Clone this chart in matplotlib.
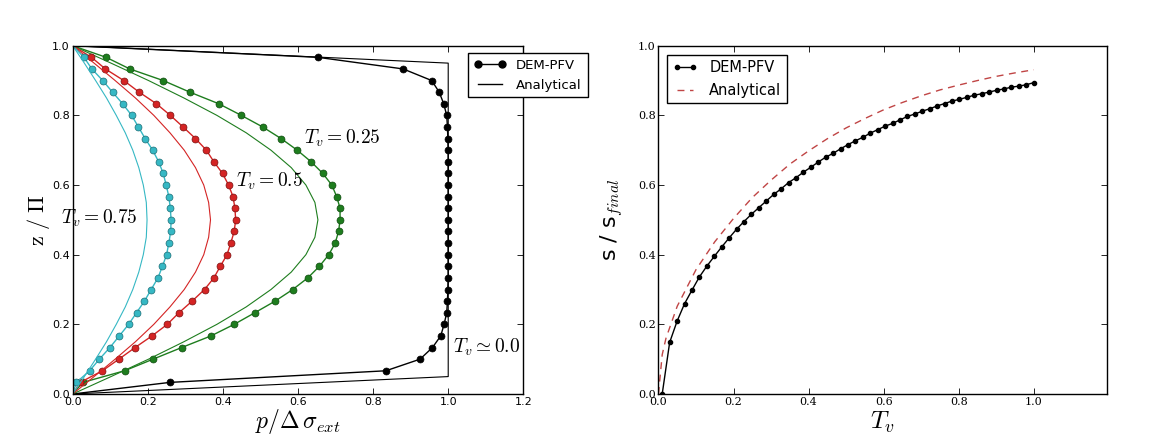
import numpy as np
import matplotlib
matplotlib.use('Agg')
import matplotlib.pyplot as plt

plt.rcParams['mathtext.fontset'] = 'cm'
plt.rcParams['font.family'] = 'DejaVu Sans'

# --- left panel: pressure profiles (DEM points every 1/30 of height)
z_dem = np.linspace(0.0, 1.0, 31)
p_dem_000 = [0, .259, .834, .925, .958, .980, .989, .996, .998, .999,
             1.0, 1.0, 1.0, 1.0, 1.0, 1.0, 1.0, 1.0, 1.0, 1.0, 1.0, 1.0,
             .999, .998, .996, .988, .976, .956, .880, .653, 0]
p_dem_025 = [0, .027, .138, .214, .290, .368, .430, .485, .539, .586, .626,
             .657, .682, .699, .708, .712, .712, .703, .690, .666, .635,
             .598, .555, .506, .449, .389, .312, .241, .152, .089, 0]
p_dem_050 = [0, .020, .079, .123, .166, .211, .252, .283, .318, .351, .376,
             .393, .411, .421, .430, .434, .432, .427, .415, .399, .376,
             .356, .327, .294, .260, .223, .177, .136, .087, .050, 0]
p_dem_075 = [0, .010, .045, .071, .099, .124, .149, .170, .191, .209, .227,
             .239, .250, .256, .261, .262, .260, .256, .249, .241, .229,
             .213, .193, .175, .157, .133, .106, .080, .051, .030, 0]

# analytical profiles, every 0.05 of height
z_an = np.linspace(0.0, 1.0, 21)
p_an_000 = [0] + [1.0] * 19 + [0]
p_an_025 = [0, .102, .202, .296, .384, .462, .528, .582, .621, .645, .653,
            .645, .621, .582, .528, .462, .384, .296, .202, .102, 0]
p_an_050 = [0, .057, .113, .167, .216, .259, .297, .327, .349, .362, .367,
            .362, .349, .327, .297, .259, .216, .167, .113, .057, 0]
p_an_075 = [0, .031, .061, .090, .116, .140, .160, .176, .188, .196, .198,
            .196, .188, .176, .160, .140, .116, .090, .061, .031, 0]

# --- right panel: settlement vs time factor
tv_dem = np.linspace(0.01, 1.0, 51)
s_dem = [0.0, .148, .209, .259, .298, .336, .367, .395, .422, .448, .473,
         .495, .516, .535, .554, .573, .589, .607, .621, .637, .651, .666,
         .680, .691, .704, .716, .727, .737, .749, .759, .769, .777, .787,
         .797, .804, .812, .819, .827, .834, .841, .846, .852, .858, .862,
         .867, .872, .876, .881, .884, .888, .894]
tv_an = [0, .01, .02, .05, .1, .15, .2, .25, .3, .35, .4, .45, .5, .55, .6,
         .65, .7, .75, .8, .85, .9, .95, 1.0]
s_an = [0, .113, .160, .252, .357, .437, .504, .564, .614, .660, .698, .733,
        .764, .791, .816, .837, .856, .873, .887, .900, .912, .922, .931]

cols = {'000': 'k', '025': '#1e7d1e', '050': '#d42424', '075': '#36b8c4'}
edges = {'000': 'k', '025': '#0f4a0f', '050': '#7a1010', '075': '#1d6e76'}

fig = plt.figure(figsize=(11.65, 4.37), dpi=100)
ax1 = fig.add_axes([0.0624, 0.0984, 0.3868, 0.797])
ax2 = fig.add_axes([0.5652, 0.0984, 0.385, 0.797])

for key, pd_, pa in [('000', p_dem_000, p_an_000), ('025', p_dem_025, p_an_025),
                     ('050', p_dem_050, p_an_050), ('075', p_dem_075, p_an_075)]:
    ax1.plot(pd_, z_dem, '-', color=cols[key], lw=1.0, marker='o', ms=5,
             mec=edges[key], mew=0.5, markevery=slice(1, -1))
    ax1.plot(pa, z_an, '-', color=cols[key], lw=0.8)

ax1.text(0.615, 0.734, r'$T_v=0.25$', fontsize=14, va='center')
ax1.text(0.436, 0.61, r'$T_v=0.5$', fontsize=14, va='center')
ax1.text(-0.03, 0.504, r'$T_v=0.75$', fontsize=14, va='center')
ax1.text(1.012, 0.135, r'$T_v\simeq0.0$', fontsize=14, va='center')

ax1.set_xlim(0, 1.2)
ax1.set_ylim(0, 1.0)
ax1.set_xticks(np.arange(0, 1.21, 0.2))
ax1.set_yticks(np.arange(0, 1.01, 0.2))
ax1.set_xlabel(r'$p/\Delta\,\sigma_{ext}$', fontsize=17)
ax1.xaxis.set_label_coords(0.5, -0.036)
ax1.set_ylabel(r'$\mathrm{z\ /\ \Pi}$', fontsize=16)
ax1.yaxis.set_label_coords(-0.047, 0.5)

h1, = ax1.plot([], [], 'k-', marker='o', ms=5, lw=1)
h2, = ax1.plot([], [], 'k-', lw=1)
fig.legend([h1, h2], ['DEM-PFV', 'Analytical'], loc='upper left',
           bbox_to_anchor=(468 / 1165, 1 - 53 / 437), borderaxespad=0,
           fontsize=9.5, numpoints=2, handlelength=2.4, fancybox=False,
           edgecolor='k', framealpha=1, borderpad=0.45, labelspacing=0.5)

ax2.plot(tv_dem, s_dem, 'k-', lw=1.0, marker='o', ms=3, label='DEM-PFV')
ax2.plot(tv_an, s_an, '--', color='#c04545', lw=1.0, dashes=(5, 4),
         label='Analytical')
ax2.set_xlim(0, 1.195)
ax2.set_ylim(0, 1.0)
ax2.set_xticks(np.arange(0, 1.01, 0.2))
ax2.set_yticks(np.arange(0, 1.01, 0.2))
ax2.set_xlabel(r'$T_v$', fontsize=18)
ax2.xaxis.set_label_coords(0.5, -0.045)
ax2.set_ylabel(r's / s$_{final}$', fontsize=16)
ax2.yaxis.set_label_coords(-0.074, 0.5)
ax2.legend(loc='upper left', bbox_to_anchor=(667 / 1165, 1 - 54.5 / 437),
           bbox_transform=fig.transFigure, borderaxespad=0, fontsize=10.5,
           numpoints=2, handlelength=1.7, fancybox=False, edgecolor='k',
           framealpha=1, borderpad=0.4, labelspacing=0.5)

for ax, fam in [(ax1, 'DejaVu Sans'), (ax2, 'DejaVu Serif')]:
    ax.tick_params(direction='in', top=True, right=True, length=4, width=0.6,
                   labelsize=8, pad=2)
    for lab in ax.get_xticklabels() + ax.get_yticklabels():
        lab.set_family(fam)
    for sp in ax.spines.values():
        sp.set_linewidth(1.0)

fig.savefig('out.png', dpi=100)
